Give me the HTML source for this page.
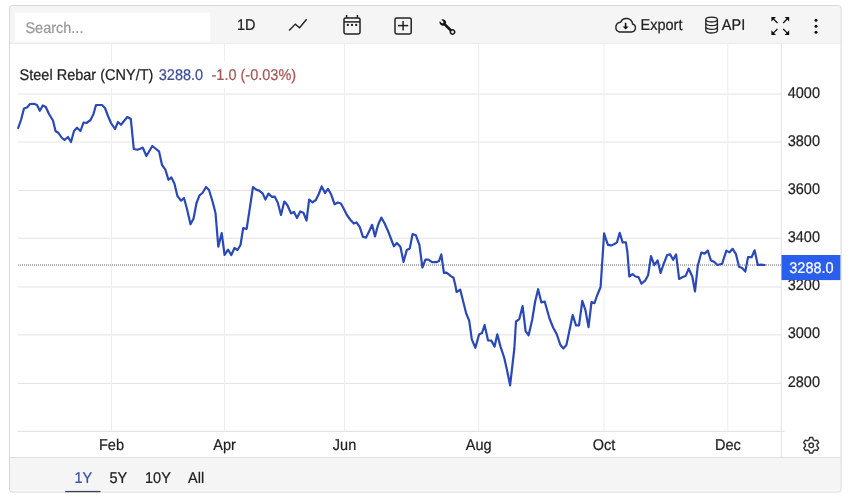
<!DOCTYPE html>
<html><head><meta charset="utf-8"><title>Steel Rebar</title>
<style>
html,body{margin:0;padding:0;background:#fff;width:850px;height:501px;overflow:hidden}
svg{position:absolute;left:0;top:0;display:block;will-change:transform}
text{font-family:"Liberation Sans",Arial,sans-serif;font-size:14.5px;fill:#222;stroke:#222;stroke-width:0.22px;text-rendering:geometricPrecision}
</style></head><body>
<svg width="850" height="501" viewBox="0 0 850 501">
<rect x="9.5" y="5.5" width="831.5" height="486" rx="2.5" fill="#fff"/>
<path d="M10 43.5 V8 Q10 6 12 6 H838.5 Q840.5 6 840.5 8 V43.5 Z" fill="#f5f5f5"/>
<line x1="10" y1="43.5" x2="840.5" y2="43.5" stroke="#ebebeb" stroke-width="1"/>
<rect x="15" y="12.6" width="195.2" height="28.8" fill="#fff"/>
<text transform="translate(25.4 32.8) scale(1 1.07)" style="fill:#999999;stroke:#999999">Search...</text>
<text transform="translate(237 30.3) scale(1 1.07)">1D</text>
<polyline points="289.1,30.6 295.3,24.1 299.6,27.8 306.6,19.2" fill="none" stroke="#222" stroke-width="1.4"/>
<g fill="none" stroke="#222" stroke-width="1.5">
<rect x="344" y="17.9" width="16" height="16" rx="1.6"/>
<line x1="344" y1="21.9" x2="360" y2="21.9"/>
<line x1="346.6" y1="15" x2="346.6" y2="18"/>
<line x1="357.4" y1="15" x2="357.4" y2="18"/>
</g>
<g fill="#222"><circle cx="347.8" cy="25" r="1.15"/><circle cx="352" cy="25" r="1.15"/><circle cx="356.2" cy="25" r="1.15"/></g>
<g fill="none" stroke="#222" stroke-width="1.5">
<rect x="395" y="17.9" width="16.2" height="16" rx="1.6"/>
<line x1="398" y1="25.6" x2="408.2" y2="25.6"/>
<line x1="403.1" y1="21" x2="403.1" y2="30.6"/>
</g>
<g transform="translate(442.8 22.5) rotate(44.4)">
<circle r="3.15" fill="#151515"/>
<rect x="0" y="-1.25" width="13.6" height="2.5" fill="#151515"/>
<circle cx="13.6" r="2.85" fill="#151515"/>
<circle cx="13.6" r="1.4" fill="#f5f5f5"/>
<rect x="-3.6" y="-1.05" width="3.1" height="2.1" fill="#f5f5f5"/>
<circle cx="-0.5" r="1.05" fill="#f5f5f5"/>
</g>
<path d="M619.5 32 H631.5 A4.1 4.1 0 0 0 632.6 24 A6.3 6.3 0 0 0 620.6 22.2 A5 5 0 0 0 619.5 32 Z" fill="none" stroke="#222" stroke-width="1.4"/>
<path d="M625.6 22.8 V27" stroke="#111" stroke-width="1.6"/>
<path d="M622.6 26.4 H628.6 L625.6 29.6 Z" fill="#111"/>
<text transform="translate(640.5 29.6) scale(1 1.07)">Export</text>
<g fill="none" stroke="#222" stroke-width="1.3">
<ellipse cx="711.6" cy="19.6" rx="5.8" ry="2.4"/>
<path d="M705.8 19.6 V30.6 A5.8 2.4 0 0 0 717.4 30.6 V19.6"/>
<path d="M705.8 23.3 A5.8 2.4 0 0 0 717.4 23.3"/>
<path d="M705.8 27 A5.8 2.4 0 0 0 717.4 27"/>
</g>
<text transform="translate(721.8 29.8) scale(1 1.07)">API</text>
<g stroke="#111" stroke-width="1.25" fill="none">
<path d="M773 18.5 L777.5 23"/><path d="M787.6 18.5 L783.2 23"/>
<path d="M773 33.4 L777.4 29"/><path d="M787.6 33.4 L783.2 29"/>
</g>
<g fill="#111">
<path d="M771.4 17 H776 L771.4 21.6 Z"/><path d="M789.2 17 H784.6 L789.2 21.6 Z"/>
<path d="M771.4 34.9 H776 L771.4 30.3 Z"/><path d="M789.2 34.9 H784.6 L789.2 30.3 Z"/>
</g>
<g fill="#111"><circle cx="816" cy="20.3" r="1.5"/><circle cx="816" cy="26.2" r="1.5"/><circle cx="816" cy="32.2" r="1.5"/></g>
<g stroke="#e4e4e4" stroke-width="1"><line x1="18" y1="94.1" x2="781" y2="94.1"/><line x1="18" y1="142.1" x2="781" y2="142.1"/><line x1="18" y1="190.4" x2="781" y2="190.4"/><line x1="18" y1="238.2" x2="781" y2="238.2"/><line x1="18" y1="287" x2="781" y2="287"/><line x1="18" y1="334.9" x2="781" y2="334.9"/><line x1="18" y1="383.4" x2="781" y2="383.4"/></g>
<g stroke="#eeeeee" stroke-width="1"><line x1="111.5" y1="44" x2="111.5" y2="431"/><line x1="224.6" y1="44" x2="224.6" y2="431"/><line x1="344.5" y1="44" x2="344.5" y2="431"/><line x1="478.7" y1="44" x2="478.7" y2="431"/><line x1="604.1" y1="44" x2="604.1" y2="431"/><line x1="727.8" y1="44" x2="727.8" y2="431"/></g>
<line x1="781.3" y1="44" x2="781.3" y2="457" stroke="#e4e4e4"/>
<line x1="17.5" y1="431.3" x2="784.5" y2="431.3" stroke="#dedede"/>
<rect x="17" y="62" width="282" height="26" fill="#fff"/>
<text transform="translate(19.6 79.5) scale(1 1.07)">Steel Rebar (CNY/T)<tspan dx="5.4" fill="#3d4d94" stroke="#3d4d94">3288.0</tspan><tspan dx="8.4" fill="#a55656" stroke="#a55656">-1.0 (-0.03%)</tspan></text>
<line x1="18" y1="265" x2="781" y2="265" stroke="#646a7c" stroke-width="1.2" stroke-dasharray="1 1"/>
<path d="M18.2 128 L21 120 L24 108.5 L27 107.5 L30 104 L34 103.8 L37 105 L39.8 110.8 L42.8 105.5 L45.8 107 L49 114 L53 120.5 L55.5 131 L58.5 133 L61.5 137.5 L64.5 140 L68 137 L71 142 L74 131 L77 127.7 L80.5 131 L83.5 122.5 L86.5 123 L90.5 120 L93.5 114 L96 105 L102 105 L105 108 L108 116 L111 123 L115 129 L118 122 L121 124.7 L124.4 120.5 L127.4 117 L130.8 119 L133.8 149 L137.4 149.8 L142.8 147.7 L146.4 156 L152.3 146 L159 151.3 L162 165 L165.4 169.6 L168.4 179.8 L171.4 177.4 L174.4 183.4 L177.4 196 L181 200.7 L184 198 L187 209 L190.5 224.3 L193.5 218.7 L196.5 203 L199.5 195.3 L202.5 193 L206 187 L209 190 L212.7 202 L215.5 213 L218.3 246.7 L221.7 233 L224.6 255 L228 249.7 L231.3 255 L234.5 248 L237.5 250 L240.5 245 L243.2 228 L246.6 229 L249.6 209.7 L253 187 L256.2 189.6 L259.2 190.6 L262.8 193.6 L265.4 199.6 L268.5 193.6 L271.7 196.8 L274.7 196.6 L277.7 202.5 L281 215 L284.3 201.6 L287.3 205 L291 213.3 L294 212 L297 218 L300.2 211.5 L303.4 212.7 L306.5 220.5 L309.2 199.5 L312.5 202.3 L315.8 200 L318.8 194 L321.7 186.4 L325 193 L328 188.8 L331.3 194.8 L334.6 204.3 L337.9 202.5 L340.9 203.5 L343.9 209 L346.9 215 L350.5 220 L353.8 223.6 L356.5 222.4 L359.8 227.2 L362.8 236.7 L366.1 237.6 L369.4 230.7 L372.1 224.8 L375 236.4 L378.1 224.8 L381.3 217.6 L384.3 222.7 L387.9 230.7 L390.9 238.5 L393.9 246.3 L396.9 243 L400.5 247 L403.5 261.9 L406.8 249.9 L409.8 248.4 L412.6 234 L415.8 235.2 L419.4 244.8 L422.4 267.5 L425.4 259.7 L428.4 259.7 L432 262.1 L436.7 262.1 L439.1 261 L441.3 254.3 L443.9 272.9 L446.9 272.7 L450.5 275.9 L453.5 277.7 L455.3 285 L456.6 292 L460.2 289.6 L463.2 301.6 L466.2 313.5 L469.2 320.7 L471.8 339.4 L475.4 347.8 L479 334.6 L482 333.1 L484.6 325 L488 340.3 L491.3 340.6 L494.6 346.6 L497.3 334.3 L500.5 346.6 L504.1 357.3 L507.1 370.5 L510.1 385.3 L512.5 364.5 L514.3 349 L516 321.5 L519.3 319.1 L522.6 306 L525.6 331.1 L528.6 335.3 L532.2 319.7 L535.1 301.8 L538.1 289.2 L541.4 302.4 L544.7 301.5 L549.5 318.5 L553.1 327.5 L556.7 334.1 L560.4 345 L563.4 348.5 L566.4 345.1 L569.4 330.7 L572.7 315.1 L576 325.3 L579 325.3 L582.3 300.8 L585.5 310.4 L588.5 327.1 L591.5 302 L594.5 303.2 L596.9 296 L600.6 287 L604.1 233.4 L606.2 240 L608 244.8 L611 245.4 L614 244.2 L617 242.4 L619.7 232.8 L622.6 242.4 L625.9 242.4 L627.4 252 L629.3 276.5 L632.5 274.1 L635.5 276.5 L638.5 277.1 L641.5 283.7 L645.1 280.7 L648.1 275.3 L651 256.2 L654.3 265.1 L657.6 260.4 L660.6 272.9 L663.6 264 L667.2 255 L670.1 254.4 L673.1 259.8 L676.1 254.4 L679.1 278.9 L682.7 277.1 L685.7 275.9 L688.7 268.7 L692.3 276.5 L695 291.5 L697.7 266.3 L701.3 252.5 L704.6 253.6 L707.8 250.6 L710.8 260.2 L714.4 262 L717.4 265 L722.2 263.8 L724 257.8 L726.4 250.6 L729.4 252.4 L732.6 248.8 L736 254.2 L739 266.8 L742.2 268 L745.3 271.6 L748 257.2 L751.6 257.2 L754.6 250.3 L757.8 265 L761.1 264.7 L764.7 265" fill="none" stroke="#2a49b6" stroke-width="2.2" stroke-linejoin="round" stroke-linecap="round"/>
<text transform="translate(787.7 97.5) scale(1 1.07)">4000</text><text transform="translate(787.7 145.5) scale(1 1.07)">3800</text><text transform="translate(787.7 193.8) scale(1 1.07)">3600</text><text transform="translate(787.7 241.6) scale(1 1.07)">3400</text><text transform="translate(787.7 290.4) scale(1 1.07)">3200</text><text transform="translate(787.7 338.3) scale(1 1.07)">3000</text><text transform="translate(787.7 386.8) scale(1 1.07)">2800</text>
<rect x="781.5" y="255" width="59.2" height="25.1" fill="#2a5eec"/>
<text transform="translate(789.3 272.5) scale(1 1.07)" style="fill:#fff;stroke:#fff">3288.0</text>
<text transform="translate(111.5 449.8) scale(1 1.07)" text-anchor="middle">Feb</text><text transform="translate(224.6 449.8) scale(1 1.07)" text-anchor="middle">Apr</text><text transform="translate(344.5 449.8) scale(1 1.07)" text-anchor="middle">Jun</text><text transform="translate(478.7 449.8) scale(1 1.07)" text-anchor="middle">Aug</text><text transform="translate(604.1 449.8) scale(1 1.07)" text-anchor="middle">Oct</text><text transform="translate(727.8 449.8) scale(1 1.07)" text-anchor="middle">Dec</text>
<g transform="translate(811.2 445.3)" fill="none" stroke="#333" stroke-width="1.4">
<path d="M5.82 0.96 L7.46 2.59 L5.97 5.17 L3.74 4.56 L2.08 5.52 L1.49 7.76 L-1.49 7.76 L-2.08 5.52 L-3.74 4.56 L-5.97 5.17 L-7.46 2.59 L-5.82 0.96 L-5.82 -0.96 L-7.46 -2.59 L-5.97 -5.17 L-3.74 -4.56 L-2.08 -5.52 L-1.49 -7.76 L1.49 -7.76 L2.08 -5.52 L3.74 -4.56 L5.97 -5.17 L7.46 -2.59 L5.82 -0.96 Z" stroke-linejoin="round"/>
<circle r="2.3"/>
</g>
<path d="M10 457.5 H840.5 V490.4 H10 Z" fill="#f5f5f5"/>
<line x1="10" y1="457.5" x2="840.5" y2="457.5" stroke="#dedede"/>
<rect x="9.5" y="5.5" width="831.5" height="486.5" rx="2.5" fill="none" stroke="#d8d8d8" stroke-width="1"/>
<text transform="translate(74.5 482.8) scale(1 1.07)" style="fill:#3c4fa6;stroke:#3c4fa6">1Y</text>
<text transform="translate(109.5 482.8) scale(1 1.07)">5Y</text>
<text transform="translate(145 482.8) scale(1 1.07)">10Y</text>
<text transform="translate(188 482.8) scale(1 1.07)">All</text>
<rect x="65.2" y="490.9" width="35.3" height="1.3" fill="#3a3f58"/>
</svg>
</body></html>
